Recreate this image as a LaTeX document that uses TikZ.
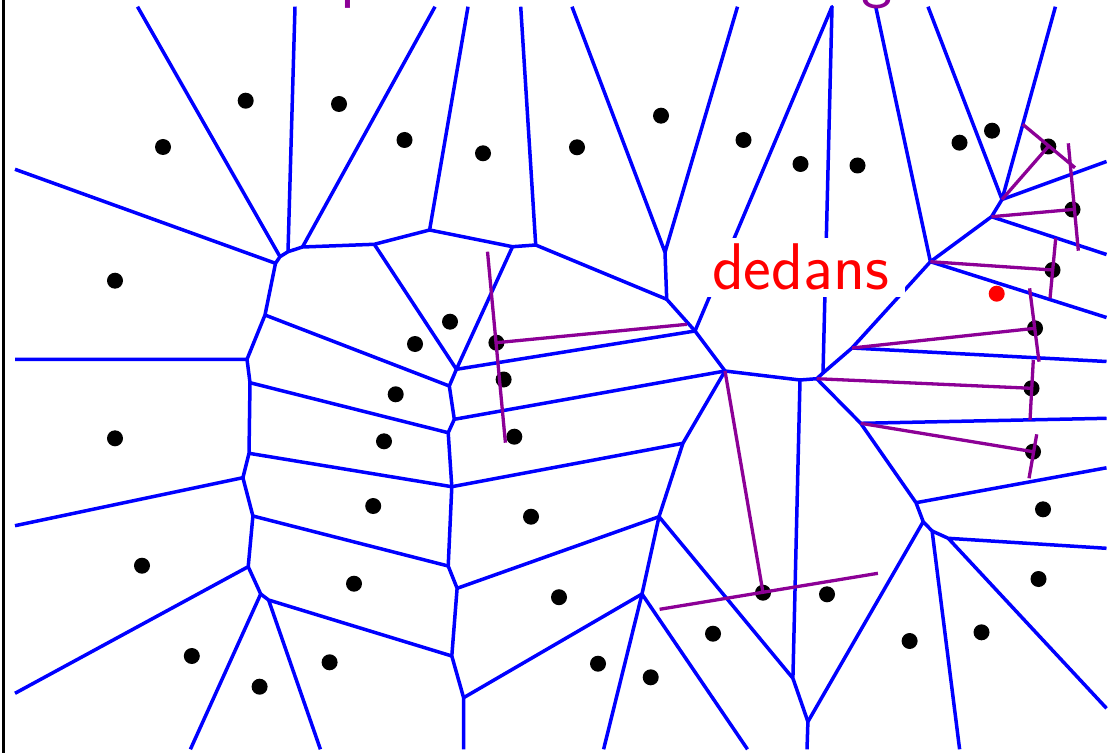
\documentclass[tikz,border=0pt]{standalone}
\definecolor{cellblue}{RGB}{0,0,255}
\definecolor{medviolet}{RGB}{140,0,150}

\begin{document}
\begin{tikzpicture}[x=0.5pt, y=-0.5pt, line join=round,
  vor/.style={draw=cellblue, line width=1.75pt},
  med/.style={draw=medviolet, line width=1.65pt},
  site/.style={circle, fill=black, inner sep=0pt, minimum size=8pt},
  big/.style={font=\sffamily\fontsize{33}{38}\selectfont}]
\useasboundingbox (0,0) rectangle (1111,753);
\clip (0,0) rectangle (1111,753);

% vertices of the cells
\path (275.5,263.3) coordinate (v1) (280,256.7) coordinate (v2) (288,251.7) coordinate (v3)
  (302.5,247) coordinate (v4) (374.3,244.3) coordinate (v5) (429.6,230) coordinate (v6)
  (512.5,246.7) coordinate (v7) (535.7,245) coordinate (v8) (456.4,369.3) coordinate (v9)
  (265,315) coordinate (v10) (247,359.3) coordinate (v11) (250,382.7) coordinate (v12)
  (448.2,432.7) coordinate (v13) (449.3,386) coordinate (v14) (454.3,419.3) coordinate (v15)
  (451.8,486.7) coordinate (v16) (249,453.3) coordinate (v17) (242.9,477.7) coordinate (v18)
  (252.9,516) coordinate (v19) (448.2,566) coordinate (v20) (457.1,588.3) coordinate (v21)
  (248.2,566.7) coordinate (v22) (260.7,594) coordinate (v23) (268.6,600) coordinate (v24)
  (451.8,656) coordinate (v25) (463.6,697.7) coordinate (v26) (725,371) coordinate (v27)
  (800,380) coordinate (v28) (816.7,378.7) coordinate (v29) (792.9,678.3) coordinate (v30)
  (682.9,443.3) coordinate (v31) (659,516.7) coordinate (v32) (642,594) coordinate (v33)
  (807.9,721.7) coordinate (v34) (923.2,521.7) coordinate (v35) (860.7,423.3) coordinate (v36)
  (916,502.7) coordinate (v37) (932.1,531) coordinate (v38) (948.2,538.3) coordinate (v39)
  (823,373) coordinate (vx);
\path (832,6.7) coordinate (q0) (665,252.3) coordinate (q1) (666.7,299.3) coordinate (q2)
  (695,331) coordinate (q3) (930.4,261.7) coordinate (q4) (852,348) coordinate (q5)
  (1002,199.5) coordinate (q6) (991.5,216.7) coordinate (q7);
% free ends on the frame
\path (137.5,6.7) coordinate (t1) (295,6.7) coordinate (t2) (435,6.7) coordinate (t3)
  (468,6.7) coordinate (t4) (520.7,6.7) coordinate (t5) (572,6.7) coordinate (t6)
  (737.5,6.7) coordinate (t7) (875.7,6.7) coordinate (t8) (928,6.7) coordinate (t9)
  (1055.4,6.7) coordinate (t10);
\path (15,169.3) coordinate (l1) (15,359.3) coordinate (l2) (15,525.7) coordinate (l3)
  (15,693.3) coordinate (l4);
\path (190.4,749.3) coordinate (b1) (320.4,749.3) coordinate (b2) (463.6,749.3) coordinate (b3)
  (603.6,749.3) coordinate (b4) (747.5,749.3) coordinate (b5) (807,749.3) coordinate (b6)
  (959.6,749.3) coordinate (b7);
\path (1106.5,161.5) coordinate (r1) (1106.5,254.5) coordinate (r2) (1106.5,317.5) coordinate (r3)
  (1106.5,361.5) coordinate (r4) (1106.5,418.3) coordinate (r5) (1106.5,467.8) coordinate (r6)
  (1106.5,548.3) coordinate (r7) (1106.5,708.3) coordinate (r8);

\draw[line width=1.3pt] (3.5,0) -- (3.5,753);

\draw[vor] (l1) -- (v1) -- (v2) -- (v3) -- (v4) -- (v5) -- (v6) -- (v7) -- (v8) -- (q2);
\draw[vor] (t1) -- (v2) (t2) -- (v3) (t3) -- (v4) (t4) -- (v6) (t5) -- (v8);
\draw[vor] (t6) -- (q1) -- (t7) (q1) -- (q2) -- (q3) -- (v27) -- (v28) -- (v29) -- (vx) -- (q5)
  -- (q4) -- (q7) -- (q6) -- (t9) (q6) -- (t10) (q4) -- (t8);
\draw[vor] (q3) -- (q0) -- (vx);
\draw[vor] (v5) -- (v9) -- (v7) (v9) -- (q3);
\draw[vor] (v9) -- (v14) -- (v15) -- (v13) -- (v16) -- (v20) -- (v21) -- (v25) -- (v26) -- (b3);
\draw[vor] (v1) -- (v10) -- (v11) -- (v12) -- (v17) -- (v18) -- (v19) -- (v22) -- (v23) -- (v24) -- (v25);
\draw[vor] (v11) -- (l2) (v18) -- (l3) (v22) -- (l4) (v23) -- (b1) (v24) -- (b2);
\draw[vor] (v10) -- (v14) (v12) -- (v13) (v17) -- (v16) (v19) -- (v20);
\draw[vor] (v15) -- (v27) (v16) -- (v31) (v21) -- (v32) (v26) -- (v33);
\draw[vor] (v27) -- (v31) -- (v32) -- (v33) -- (b4) (v33) -- (b5);
\draw[vor] (v32) -- (v30) -- (v34) -- (b6) (v28) -- (v30);
\draw[vor] (v34) -- (v35) -- (v38) -- (b7) (v29) -- (v36) -- (v37) -- (v35);
\draw[vor] (v38) -- (v39) -- (r7) (v39) -- (r8) (v36) -- (r5) (v37) -- (r6);
\draw[vor] (q6) -- (r1) (q7) -- (r2) (q4) -- (r3) (q5) -- (r4);

% sites
\foreach \x/\y [count=\i] in {163/147, 245.7/100.7, 339/104, 404.5/140, 483/153.3, 577/147.3,
  661/115.7, 743.5/140, 800.5/164, 857.5/165.5, 959.5/142.7, 992/130.7, 1048.3/146.5,
  1072.5/209.5, 1052.5/270, 1035/328.3, 1031.5/388.3, 1033/451.7, 1043/509.3, 1038.5/579,
  981.5/632.3, 909.6/641, 827/594.3, 763/592.7, 713/633.7, 650.7/677.3, 598/663.7,
  559/597.2, 531/516.7, 514.3/436.7, 503.6/379.5, 496.4/342.7, 450/321.7, 415/344,
  395.7/394.3, 384/441.3, 373.2/506, 354/583.7, 329.6/662.3, 259.6/686.7, 191.8/656,
  142/565.7, 115/438.3, 115/280.7}
  \node[site] (s\i) at (\x,\y) {};
\node[site, fill=red] (pin) at (996.7,293.7) {};

% perpendiculars
\path (487.5,251.7) coordinate (m1) (505.4,442.7) coordinate (m2) (687,324.3) coordinate (m3)
  (659.6,609.3) coordinate (m5) (877.9,573.3) coordinate (m6)
  (1022.7,124.3) coordinate (m7) (1075,167.7) coordinate (m8)
  (1068.3,143.3) coordinate (m9) (1078.3,250.7) coordinate (m10)
  (1055.7,238.3) coordinate (m11) (1050,298.3) coordinate (m12)
  (1029.6,288.3) coordinate (m13) (1039,361.7) coordinate (m14)
  (1033.3,360) coordinate (m15) (1030,420) coordinate (m16)
  (1036.7,434.3) coordinate (m17) (1029,478.3) coordinate (m18);
\draw[med] (m1) -- (m2) (s32.center) -- (m3);
\draw[med] (v27) -- (s24.center) (m5) -- (m6);
\draw[med] (m7) -- (m8) (q6) -- (s13.center) (m9) -- (m10) (q7) -- (s14.center);
\draw[med] (m11) -- (m12) (q4) -- (s15.center) (m13) -- (m14) (q5) -- (s16.center);
\draw[med] (m15) -- (m16) (v29) -- (s17.center) (m17) -- (m18) (v36) -- (s18.center);

\node[big, fill=white, text=red, inner xsep=8pt, inner ysep=3pt, anchor=base] (dd) at (800.5,290) {dedans};
\node[big, text=medviolet, inner sep=0pt, anchor=base west] (tp) at (340,-4) {p};
\node[big, text=medviolet, inner sep=0pt, anchor=base west] (tg) at (861,-4) {g};
\end{tikzpicture}
\end{document}
